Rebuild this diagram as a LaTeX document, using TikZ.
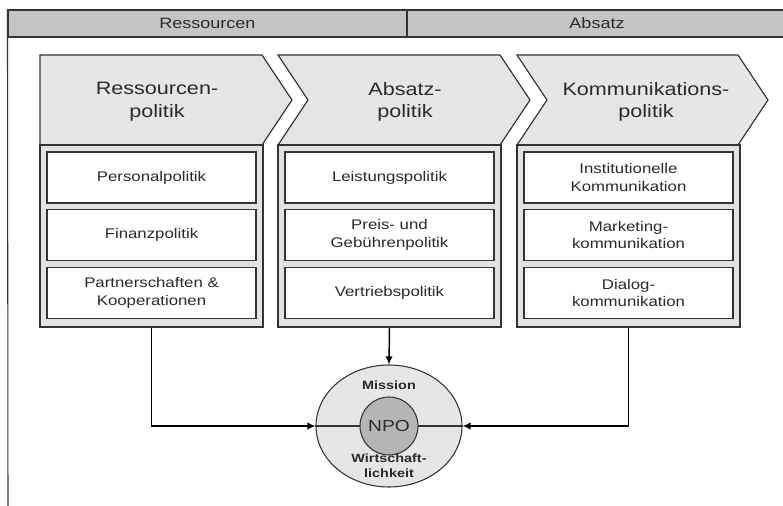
\documentclass[tikz,border=0pt]{standalone}
\usepackage{fontspec}
\setmainfont{Liberation Sans}[FakeStretch=1.2]
\usetikzlibrary{shapes.geometric,arrows.meta}

\definecolor{kopfgrau}{HTML}{C4C4C4}
\definecolor{pfeilgrau}{HTML}{E6E6E6}
\definecolor{feldgrau}{HTML}{E2E2E2}
\definecolor{npograu}{HTML}{B5B5B5}
\definecolor{linie}{HTML}{333333}
\definecolor{textgrau}{HTML}{2A2A2A}

\begin{document}
\begin{tikzpicture}[x=0.75pt, y=-0.75pt,
  every node/.style = {align=center, text=textgrau, inner sep=0pt},
  kopf/.style = {draw=linie, line width=0.8pt, fill=kopfgrau,
    minimum height=20.25pt, font=\fontsize{11.25}{13}\selectfont},
  chevron/.style = {draw=linie, line width=0.9pt, fill=pfeilgrau},
  titel/.style = {font=\fontsize{13.5}{17}\selectfont},
  feld/.style = {draw=linie, line width=1.5pt, fill=feldgrau,
    minimum width=167.25pt, minimum height=136.5pt},
  instrument/.style = {draw=linie, line width=1.1pt, fill=white,
    minimum width=156.75pt, minimum height=38.25pt,
    font=\fontsize{10.5}{13}\selectfont},
  fluss/.style = {draw=black, line width=1.1pt,
    -{Latex[length=6pt,width=5.5pt]}}]

  \useasboundingbox (0,0) rectangle (783,506);

  % Kopfzeile
  \node[kopf, minimum width=299.25pt] (hres) at (207.5,23.5) {Ressourcen};
  \node[kopf, minimum width=285pt] (habs) at (597,23.5) {Absatz};
  \coordinate (rahmenfuss) at (8,506);
  \draw[linie, line width=0.8pt] (hres.north west) -- (rahmenfuss);

  % Pfeile der drei Politikbereiche
  \draw[chevron] (40,55) -- (262,55) -- (292,100) -- (262,145) -- (40,145) -- cycle;
  \draw[chevron] (278,55) -- (500,55) -- (530,100) -- (500,145) -- (278,145) -- (308,100) -- cycle;
  \draw[chevron] (517,55) -- (738,55) -- (768,100) -- (738,145) -- (517,145) -- (547,100) -- cycle;
  \node[titel] (tres) at (157,102) {Ressourcen-\\politik};
  \node[titel] (tabs) at (405,102) {Absatz-\\politik};
  \node[titel] (tkom) at (646,102) {Kommunikations-\\politik};

  % Felder
  \node[feld] (fres) at (151.5,236) {};
  \node[feld] (fabs) at (389.5,236) {};
  \node[feld] (fkom) at (628.5,236) {};

  \node[instrument] (personal) at (151.5,177.5) {Personalpolitik};
  \node[instrument] (finanz) at (151.5,235) {Finanzpolitik};
  \node[instrument] (partner) at (151.5,293) {Partnerschaften \&\\Kooperationen};

  \node[instrument] (leistung) at (389.5,177.5) {Leistungspolitik};
  \node[instrument] (preis) at (389.5,235) {Preis- und\\Gebührenpolitik};
  \node[instrument] (vertrieb) at (389.5,293) {Vertriebspolitik};

  \node[instrument] (institut) at (628.5,177.5) {Institutionelle\\Kommunikation};
  \node[instrument] (marketing) at (628.5,235) {Marketing-\\kommunikation};
  \node[instrument] (dialog) at (628.5,293) {Dialog-\\kommunikation};

  % NPO
  \node[ellipse, draw=linie, line width=0.8pt, fill=pfeilgrau,
    minimum width=109.5pt, minimum height=91.5pt] (kern) at (389,426) {};
  \draw[linie, line width=0.8pt] (kern.west) -- (kern.east);
  \node[circle, draw=linie, line width=0.8pt, fill=npograu,
    minimum size=43.5pt, font=\fontsize{12}{14}\selectfont] (npo) at (389,426) {NPO};
  \node[font=\bfseries\fontsize{9}{11}\selectfont] (mission) at (389,385) {Mission};
  \node[font=\bfseries\fontsize{9}{11.5}\selectfont] (wirt) at (389,466) {Wirtschaft-\\lichkeit};

  \draw[fluss] (fres.south) |- (kern.west);
  \draw[fluss] (fabs.south) -- (kern.north);
  \draw[fluss] (fkom.south) |- (kern.east);
\end{tikzpicture}
\end{document}
